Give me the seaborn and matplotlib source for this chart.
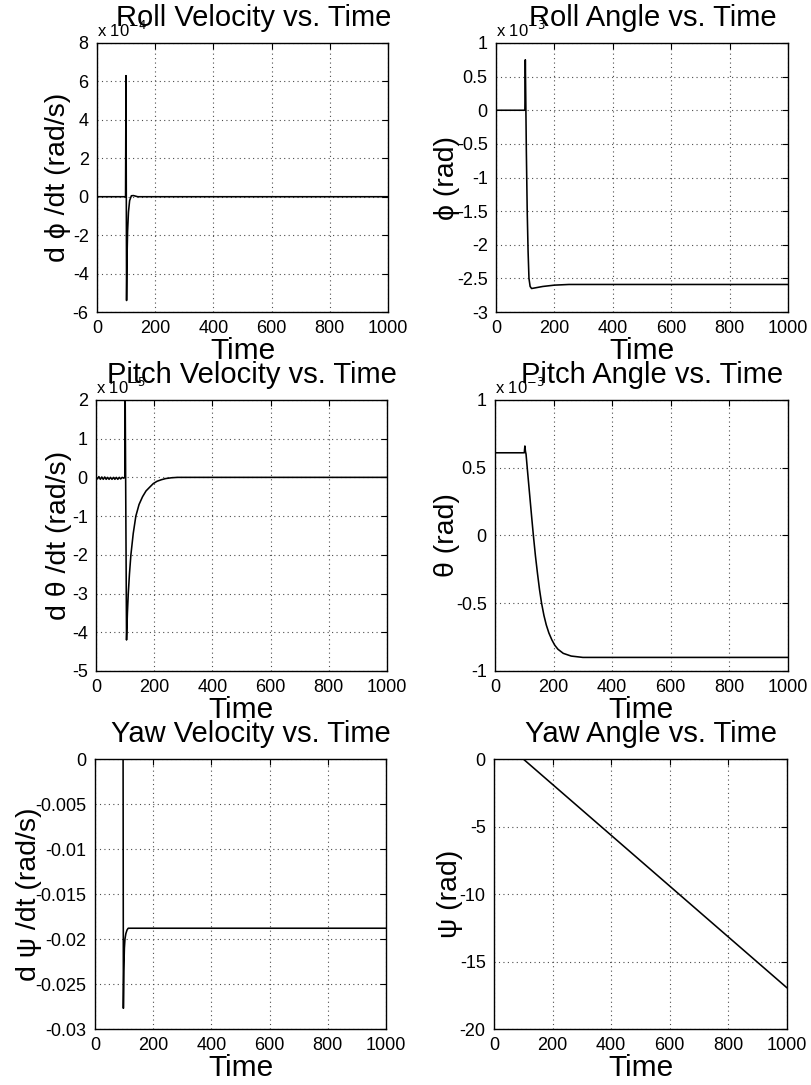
import matplotlib
matplotlib.use("Agg")
import matplotlib.pyplot as plt
from matplotlib.ticker import FuncFormatter, MultipleLocator
import seaborn as sns
import pandas as pd

# ---- time histories (values in the units shown on each y axis) ----
t_roll_rate = [0, 98, 99.5, 100.5, 101.5, 103, 105, 108, 112, 118, 125, 140, 1000]
roll_rate = [0, 0, 6.3, 0.5, -5.4, -3.2, -1.8, -0.8, -0.2, 0.05, 0.06, 0.0, 0.0]      # x1e-4 rad/s

t_roll = [0, 99, 100.5, 102, 104, 107, 110, 113, 117, 122, 135, 160, 200, 250, 1000]
roll = [0, 0, 0.75, 0.2, -0.6, -1.5, -2.1, -2.5, -2.62, -2.65, -2.64, -2.62, -2.60, -2.59, -2.59]  # x1e-3 rad

t_pitch_rate = [0, 5, 10, 15, 20, 25, 30, 35, 40, 45, 50, 55, 60, 65, 70, 75, 80, 85, 90, 95,
                99, 100, 105, 108, 111, 115, 120, 128, 137, 148, 160, 172, 185, 197, 210, 225,
                240, 260, 280, 1000]
pitch_rate = [0, -0.04, 0.02, -0.05, 0.01, -0.05, 0.01, -0.05, 0.0, -0.05, 0.0, -0.05, 0.0, -0.05,
              0.0, -0.05, 0.0, -0.04, 0.0, -0.02,
              0.0, 2.6, -4.2, -3.5, -3.0, -2.5, -2.0, -1.45, -1.0, -0.7, -0.5, -0.35, -0.25,
              -0.16, -0.1, -0.06, -0.03, -0.01, 0.0, 0.0]  # x1e-5 rad/s

t_pitch = [0, 100, 102, 104, 106, 110, 115, 120, 125, 131, 138, 145, 152, 159, 167, 175, 184,
           194, 204, 215, 233, 260, 300, 1000]
pitch = [0.61, 0.61, 0.66, 0.62, 0.60, 0.50, 0.38, 0.26, 0.14, 0.0, -0.15, -0.28, -0.40, -0.50,
         -0.59, -0.66, -0.72, -0.77, -0.81, -0.84, -0.87, -0.89, -0.90, -0.90]  # x1e-3 rad

t_yaw_rate = [0, 96.5, 97.5, 99, 101, 103, 106, 110, 114, 120, 1000]
yaw_rate = [0, 0, -0.0277, -0.0235, -0.0210, -0.0200, -0.0194, -0.0190, -0.0188, -0.0188, -0.0188]

t_yaw = [0, 100, 1000]
yaw = [0, 0, -16.95]

x_ticks = [0, 200, 400, 600, 800, 1000]

sns.set_theme(style="white")
plt.rcParams["font.family"] = ["Liberation Sans", "DejaVu Sans"]
plt.rcParams["axes.unicode_minus"] = False

fig = plt.figure(figsize=(8.12, 10.85), dpi=100)

panels = [
    # title, ylabel, t, y, exponent, ylim, ystep, axes rect, ylabel x
    ("Roll Velocity vs. Time", "d \u03d5 /dt (rad/s)", t_roll_rate, roll_rate, -4, (-6, 8), 2,
     [0.1195, 0.7124, 0.3584, 0.2480], -0.09),
    ("Roll Angle vs. Time", "\u03d5 (rad)", t_roll, roll, -3, (-3, 1), 0.5,
     [0.6108, 0.7124, 0.3596, 0.2480], -0.123),
    ("Pitch Velocity vs. Time", "d \u03b8 /dt (rad/s)", t_pitch_rate, pitch_rate, -5, (-5, 2), 1,
     [0.1182, 0.3816, 0.3584, 0.2498], -0.082),
    ("Pitch Angle vs. Time", "\u03b8 (rad)", t_pitch, pitch, -3, (-1, 1), 0.5,
     [0.6096, 0.3816, 0.3608, 0.2498], -0.12),
    ("Yaw Velocity vs. Time", "d \u03c8 /dt (rad/s)", t_yaw_rate, yaw_rate, 0, (-0.03, 0), 0.005,
     [0.1170, 0.0516, 0.3584, 0.2488], -0.182),
    ("Yaw Angle vs. Time", "\u03c8 (rad)", t_yaw, yaw, 0, (-20, 0), 5,
     [0.6084, 0.0516, 0.3608, 0.2488], -0.106),
]

for title, ylab, t, y, expo, ylim, ystep, rect, ylx in panels:
    ax = fig.add_axes(rect)
    df = pd.DataFrame({"Time": t, "value": y})
    sns.lineplot(data=df, x="Time", y="value", ax=ax, color="black", linewidth=1.15,
                 estimator=None, sort=False)
    ax.set_xlim(0, 1000)
    ax.set_ylim(*ylim)
    ax.set_xticks(x_ticks)
    ax.yaxis.set_major_locator(MultipleLocator(ystep))
    ax.xaxis.set_major_formatter(FuncFormatter(lambda v, _: f"{v:g}"))
    ax.yaxis.set_major_formatter(FuncFormatter(lambda v, _: f"{round(v, 6):g}"))
    ax.grid(True, linestyle=(0, (1, 3)), color="0.3", linewidth=0.8)
    ax.tick_params(axis="both", which="major", direction="in", length=4, width=0.8,
                   labelsize=13, top=True, right=True, pad=6, colors="black")
    for sp in ax.spines.values():
        sp.set_visible(True)
        sp.set_color("black")
        sp.set_linewidth(1.0)
    ax.set_title(title, fontsize=21, pad=12, x=0.537, color="black")
    ax.set_xlabel("Time", fontsize=21.5, labelpad=0, color="black")
    ax.set_ylabel(ylab, fontsize=20.5, color="black")
    ax.yaxis.set_label_coords(ylx, 0.5)
    if expo != 0:
        ax.text(0.0, 1.012, "x 10$^{%d}$" % expo, transform=ax.transAxes,
                fontsize=12, ha="left", va="bottom", color="black")

fig.savefig("out.png", dpi=100, facecolor="white")
